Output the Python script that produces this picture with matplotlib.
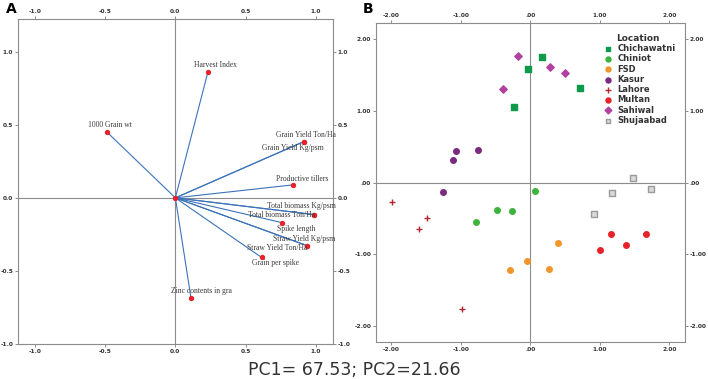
import matplotlib.pyplot as plt
import matplotlib.ticker as mticker

# ---- Panel A: loadings ----
var_names = ['Harvest Index', '1000 Grain wt', 'Grain Yield Ton/Ha', 'Grain Yield Kg/psm',
             'Productive tillers', 'Total biomass Kg/psm', 'Total biomass Ton/Ha',
             'Spike length', 'Straw Yield Kg/psm', 'Straw Yield Ton/Ha',
             'Grain per spike', 'Zinc contents in gra']
load_pc1 = [0.231, -0.489, 0.912, 0.912, 0.839, 0.983, 0.983, 0.756, 0.934, 0.934, 0.614, 0.111]
load_pc2 = [0.859, 0.452, 0.384, 0.384, 0.089, -0.114, -0.114, -0.169, -0.326, -0.326, -0.408, -0.685]
# label offsets in pixels (dx, dy) - layout only
label_off = [(8, 7), (3, 7), (2, 7), (-11, -6), (9, 6), (-12, 9), (-32, 0),
             (15, -6), (-2, 7), (-29, -2), (14, -6), (10, 7)]

# ---- Panel B: scores ----
locations = ['Chichawatni', 'Chiniot', 'FSD', 'Kasur', 'Lahore', 'Multan', 'Sahiwal', 'Shujaabad']
score_pc1 = {
    'Chichawatni': [-0.033, 0.162, 0.72, -0.23],
    'Chiniot': [0.062, -0.473, -0.264, -0.781],
    'FSD': [0.393, -0.052, -0.293, 0.27],
    'Kasur': [-1.074, -0.757, -1.112, -1.25],
    'Lahore': [-1.983, -1.486, -1.6, -0.98],
    'Multan': [1.004, 1.16, 1.378, 1.662],
    'Sahiwal': [-0.17, 0.28, 0.493, -0.392],
    'Shujaabad': [1.477, 1.175, 1.733, 0.914],
}
score_pc2 = {
    'Chichawatni': [1.58, 1.753, 1.32, 1.056],
    'Chiniot': [-0.125, -0.381, -0.399, -0.548],
    'FSD': [-0.837, -1.092, -1.227, -1.208],
    'Kasur': [0.442, 0.452, 0.312, -0.134],
    'Lahore': [-0.269, -0.488, -0.642, -1.766],
    'Multan': [-0.948, -0.725, -0.865, -0.716],
    'Sahiwal': [1.767, 1.604, 1.534, 1.302],
    'Shujaabad': [0.061, -0.144, -0.097, -0.446],
}
styles = {
    'Chichawatni': dict(marker='s', color='#0e9a4a', s=14),
    'Chiniot': dict(marker='o', color='#3cb43c', s=16),
    'FSD': dict(marker='o', color='#f0962a', s=16),
    'Kasur': dict(marker='o', color='#7a2a80', s=16),
    'Lahore': dict(marker='+', color='#b3262e', s=18, linewidths=1.0),
    'Multan': dict(marker='o', color='#e8222b', s=16),
    'Sahiwal': dict(marker='D', color='#b2419e', s=14),
    'Shujaabad': dict(marker='s', color='#d9d9d9', edgecolors='#9a9a9a', s=14),
}

fig = plt.figure(figsize=(7.08, 3.79), dpi=100)
frame_col = '#8c8c8c'
tick_font = dict(fontsize=4.2, fontweight='bold', color='#333333')


def style_axes(ax, ticks, fmt):
    ax.xaxis.set_major_locator(mticker.FixedLocator(ticks))
    ax.yaxis.set_major_locator(mticker.FixedLocator(ticks))
    ax.xaxis.set_major_formatter(mticker.FuncFormatter(fmt))
    ax.yaxis.set_major_formatter(mticker.FuncFormatter(fmt))
    ax.tick_params(which='both', direction='out', length=2.5, width=0.7, color=frame_col,
                   top=True, right=True, labeltop=True, labelright=True, pad=1)
    for lab in ax.get_xticklabels() + ax.get_yticklabels():
        lab.set(**tick_font)
    for sp in ax.spines.values():
        sp.set_color(frame_col)
        sp.set_linewidth(0.8)
    ax.axhline(0, color='#8c8c8c', lw=0.8, zorder=0)
    ax.axvline(0, color='#8c8c8c', lw=0.8, zorder=0)


# Panel A
axA = fig.add_axes([0.0254, 0.0923, 0.4446, 0.8577])
for x, y in zip(load_pc1, load_pc2):
    axA.plot([0, x], [0, y], color='#3b73b9', lw=0.8, zorder=2)
axA.scatter(load_pc1, load_pc2, s=8, color='#e8222b', zorder=3)
axA.scatter([0], [0], s=8, color='#e8222b', zorder=3)
for name, x, y, (dx, dy) in zip(var_names, load_pc1, load_pc2, label_off):
    axA.annotate(name, (x, y), xytext=(dx, dy), textcoords='offset pixels',
                 ha='center', va='center', fontsize=5.5, family='Liberation Serif',
                 color='#3a3a3a', zorder=4)
axA.set_xlim(-1.12, 1.12)
axA.set_ylim(-1.0, 1.224)
style_axes(axA, [-1.0, -0.5, 0.0, 0.5, 1.0], lambda v, p: f'{v:.1f}')

# Panel B
axB = fig.add_axes([0.531, 0.0984, 0.436, 0.8401])
for loc in locations:
    st = dict(styles[loc])
    axB.scatter(score_pc1[loc], score_pc2[loc], label=loc, zorder=3, **st)
axB.set_xlim(-2.22, 2.22)
axB.set_ylim(-2.22, 2.22)


def fmt_b(v, p):
    s = f'{v:.2f}'
    if s.startswith('0'):
        s = s[1:]
    return s.replace('-0.', '-.') if abs(v) < 1 else s


style_axes(axB, [-2.0, -1.0, 0.0, 1.0, 2.0], fmt_b)
leg = axB.legend(title='Location', loc='upper right', bbox_to_anchor=(0.99, 0.985),
                 frameon=False, handletextpad=0.1, labelspacing=0.15, borderaxespad=0.3,
                 prop=dict(size=6, weight='bold'), markerscale=0.9)
leg.get_title().set_fontsize(6.5)
leg.get_title().set_fontweight('bold')
leg.get_title().set_color('#333333')
for t in leg.get_texts():
    t.set_color('#333333')

fig.text(0.008, 0.975, 'A', fontsize=10, fontweight='bold', va='center')
fig.text(0.513, 0.975, 'B', fontsize=10, fontweight='bold', va='center')
fig.text(0.5, 0.025, 'PC1= 67.53; PC2=21.66', fontsize=12.5, ha='center', va='center',
         color='#333333')

fig.savefig('out.png', dpi=100)
